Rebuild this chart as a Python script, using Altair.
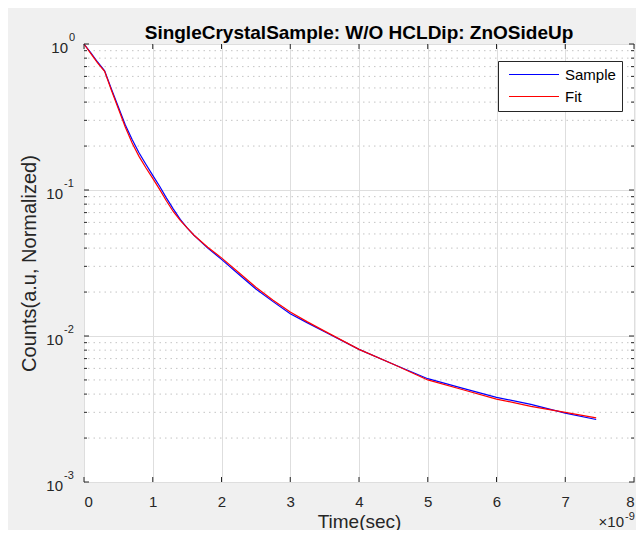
import altair as alt
import pandas as pd

# ---- data ----
t_ns = [0, 0.1, 0.2, 0.3, 0.4, 0.5, 0.6, 0.7, 0.8, 0.9, 1.0, 1.1, 1.2, 1.3, 1.4, 1.5,
        1.6, 1.8, 2.0, 2.25, 2.5, 2.75, 3.0, 3.25, 3.5, 4.0, 4.5, 5.0, 5.5, 6.0, 6.5, 7.0, 7.45]
sample = [1.0, 0.87, 0.75, 0.655, 0.49, 0.37, 0.28, 0.222, 0.18, 0.15, 0.126, 0.106, 0.088,
          0.074, 0.063, 0.055, 0.049, 0.040, 0.0335, 0.0265, 0.0210, 0.0172, 0.0142, 0.0123,
          0.0107, 0.0081, 0.0064, 0.0051, 0.0044, 0.0038, 0.0034, 0.00296, 0.00268]
fit = [1.0, 0.86, 0.74, 0.65, 0.48, 0.36, 0.27, 0.21, 0.17, 0.142, 0.12, 0.101, 0.084,
       0.071, 0.062, 0.055, 0.049, 0.0405, 0.0343, 0.0272, 0.0216, 0.0176, 0.0146, 0.0125,
       0.0108, 0.0081, 0.0064, 0.0050, 0.0043, 0.0037, 0.0033, 0.00300, 0.00275]
series_names = ["Sample", "Fit"]
series_colors = ["#0000ff", "#ff0000"]
x_ticks = [0, 1, 2, 3, 4, 5, 6, 7, 8]
y_major = [1.0, 0.1, 0.01, 0.001]
y_exponents = ["0", "-1", "-2", "-3"]
y_minor = [0.002, 0.003, 0.004, 0.005, 0.006, 0.007, 0.008, 0.009,
           0.02, 0.03, 0.04, 0.05, 0.06, 0.07, 0.08, 0.09,
           0.2, 0.3, 0.4, 0.5, 0.6, 0.7, 0.8, 0.9]
title_text = "SingleCrystalSample: W/O HCLDip: ZnOSideUp"
x_title = "Time(sec)"
y_title = "Counts(a.u, Normalized)"
x_mult_base = "×10"
x_mult_exp = "-9"

rows = []
for name, vals in zip(series_names, [sample, fit]):
    for t, v in zip(t_ns, vals):
        rows.append({"t": t, "v": v, "series": name})
df = pd.DataFrame(rows)
df_major = pd.DataFrame({"v": y_major, "e": y_exponents, "b": ["10"] * len(y_major)})
df_minor = pd.DataFrame({"v": y_minor})
df_xt = pd.DataFrame({"t": x_ticks})

W, H = 550, 438
FONT = "Liberation Sans"
AX = "#262626"

xscale = alt.Scale(domain=[0, 8], nice=False, zero=False)
yscale = alt.Scale(type="log", domain=[0.001, 1], nice=False)

x_axis = alt.Axis(values=x_ticks, format="d", grid=True, gridColor="#dedede",
                  domain=False, ticks=False, labelPadding=12, labelFontSize=15,
                  labelColor=AX, labelFont=FONT, title=x_title, titleFontSize=19,
                  titleFontWeight="normal", titleColor=AX, titleFont=FONT,
                  titleY=39, titleBaseline="middle")
y_axis = alt.Axis(values=y_major, labels=False, grid=True, gridColor="#dedede",
                  domain=False, ticks=False, title=y_title, titleFontSize=20,
                  titleFontWeight="normal", titleColor=AX, titleFont=FONT,
                  titleX=-55, titleY=H / 2, titleAngle=270, titleBaseline="middle")

minor_grid = alt.Chart(df_minor).mark_rule(
    color="#c4c4c4", strokeWidth=1, strokeDash=[1.5, 4]
).encode(y=alt.Y("v:Q", scale=yscale, axis=y_axis))

lines = alt.Chart(df).mark_line(strokeWidth=1.2).encode(
    x=alt.X("t:Q", scale=xscale, axis=x_axis),
    y=alt.Y("v:Q", scale=yscale, axis=y_axis),
    color=alt.Color("series:N", sort=series_names,
                    scale=alt.Scale(domain=series_names, range=series_colors),
                    legend=alt.Legend(orient="none", legendX=414, legendY=17, title=None,
                                      symbolType="stroke", symbolSize=2500,
                                      symbolStrokeWidth=1.2, labelFontSize=15,
                                      labelFont=FONT, labelColor="#000", padding=6,
                                      symbolOffset=4, labelOffset=5, rowPadding=6,
                                      clipHeight=15,
                                      strokeColor=AX, fillColor="white")),
)

tick_col = AX
yl_major = alt.Chart(df_major).mark_rule(color=tick_col).encode(
    y=alt.Y("v:Q", scale=yscale, axis=y_axis), x=alt.value(0), x2=alt.value(5))
yr_major = alt.Chart(df_major).mark_rule(color=tick_col).encode(
    y=alt.Y("v:Q", scale=yscale, axis=y_axis), x=alt.value(W - 5), x2=alt.value(W))
yl_minor = alt.Chart(df_minor).mark_rule(color=tick_col).encode(
    y=alt.Y("v:Q", scale=yscale, axis=y_axis), x=alt.value(0), x2=alt.value(3))
yr_minor = alt.Chart(df_minor).mark_rule(color=tick_col).encode(
    y=alt.Y("v:Q", scale=yscale, axis=y_axis), x=alt.value(W - 3), x2=alt.value(W))
xb = alt.Chart(df_xt).mark_rule(color=tick_col).encode(
    x=alt.X("t:Q", scale=xscale, axis=x_axis), y=alt.value(H - 5), y2=alt.value(H))
xt = alt.Chart(df_xt).mark_rule(color=tick_col).encode(
    x=alt.X("t:Q", scale=xscale, axis=x_axis), y=alt.value(0), y2=alt.value(5))

# y tick labels "10" with superscript exponent
lab = alt.Chart(df_major)
base0 = lab.transform_filter("datum.v > 0.5").mark_text(
    align="right", baseline="middle", fontSize=15, font=FONT, color=AX, dy=4
).encode(y=alt.Y("v:Q", scale=yscale, axis=y_axis), text="b:N", x=alt.value(-16))
exp0 = lab.transform_filter("datum.v > 0.5").mark_text(
    align="left", baseline="middle", fontSize=11, font=FONT, color=AX, dy=-6
).encode(y=alt.Y("v:Q", scale=yscale, axis=y_axis), text="e:N", x=alt.value(-15))
baseN = lab.transform_filter("datum.v < 0.5").mark_text(
    align="right", baseline="middle", fontSize=15, font=FONT, color=AX, dy=4
).encode(y=alt.Y("v:Q", scale=yscale, axis=y_axis), text="b:N", x=alt.value(-21))
expN = lab.transform_filter("datum.v < 0.5").mark_text(
    align="left", baseline="middle", fontSize=11, font=FONT, color=AX, dy=-6
).encode(y=alt.Y("v:Q", scale=yscale, axis=y_axis), text="e:N", x=alt.value(-20))

df_mult = pd.DataFrame({"b": [x_mult_base], "e": [x_mult_exp]})
mult_b = alt.Chart(df_mult).mark_text(
    align="right", baseline="alphabetic", fontSize=15, font=FONT, color=AX
).encode(text="b:N", x=alt.value(W - 10), y=alt.value(H + 45))
mult_e = alt.Chart(df_mult).mark_text(
    align="left", baseline="alphabetic", fontSize=11, font=FONT, color=AX
).encode(text="e:N", x=alt.value(W - 9), y=alt.value(H + 38))

chart = alt.layer(minor_grid, lines, yl_major, yr_major, yl_minor, yr_minor, xb, xt,
                  base0, exp0, baseN, expN, mult_b, mult_e).properties(
    width=W, height=H,
    title=alt.Title(title_text, fontSize=19, fontWeight="bold", color="#000", font=FONT,
                    offset=0, dy=11, anchor="middle"),
    autosize=alt.AutoSizeParams(type="none"),
    padding={"left": 76, "top": 36, "right": 2, "bottom": 48},
    background="#f0f0f0",
).configure_view(fill="white", stroke=AX, strokeWidth=1)

chart.save("out.html", embed_options={"renderer": "svg", "actions": False})
